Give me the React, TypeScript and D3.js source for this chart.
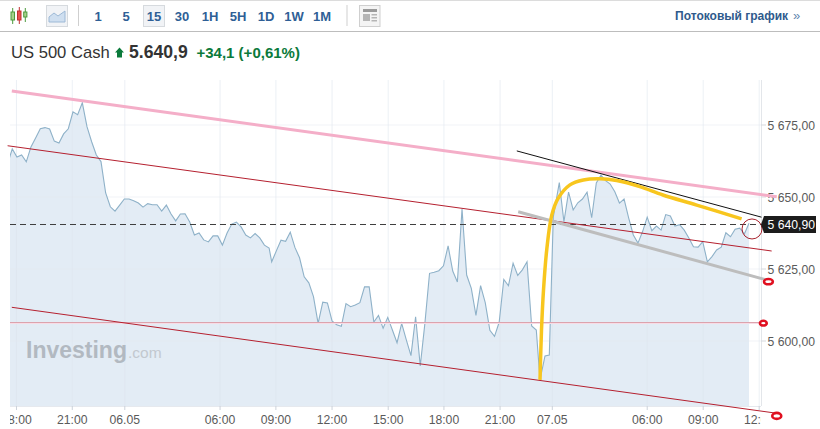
import React, { useMemo } from "react";
import * as d3 from "d3";

const priceMay5Evening = [5661.5,5666.7,5663.9,5664.6,5662.2,5667.4,5670.5,5673.7,5674.1,5673.6,5669.4,5668.75,5671.9,5673.7,5679.6,5678.6,5682.7,5674.4,5669.2,5664.6,5662.3,5651.4,5646.6,5645.1,5647.2,5649.3,5649.3,5648.7,5647.9,5646.5,5647.7,5647.3,5647.3,5645.1,5647.2,5644.1,5641.7,5644.1,5644.2,5641.3,5636.8,5637.5,5635.1,5634.4,5636.5,5636.5,5633.3,5637.5,5640.6,5641.3,5639.6,5636.8,5635.8,5637.3,5635.8,5633.3,5632.3];
const priceMay6 = [5627.5,5631.3,5635,5634.6,5637.8,5632.5,5628.9,5622.3,5620.2,5615.4,5606.1,5613.5,5613.2,5607,5605.6,5605.1,5613,5611.9,5612.5,5613.3,5618.8,5618.8,5606.6,5608.9,5604.4,5608.2,5603.8,5599.4,5606.1,5600.4,5594.9,5608.4,5591.3,5606.1,5623.5,5623.9,5624.4,5626.1,5633,5624.3,5620.5,5645.8,5622.9,5618.3,5608.9,5619.2,5613.3,5603.7,5601.6,5606.5,5621.4,5619.2,5627,5622.8,5624.7,5627.5,5605.2,5603.8,5586.5];
const priceMay7 = [5594.8,5595.1,5643.1,5655,5641.4,5651.7,5645.5,5648,5649.3,5651.7,5642.8,5654.9,5657.6,5655.7,5654.5,5651.8,5647.9,5649.3,5642.7,5636.8,5634,5638,5643,5638.3,5639.9,5638.5,5643.9,5643.4,5639.9,5640.4,5638.5,5635.8,5632.7,5632.6,5634.5,5627.5,5629.3,5631.6,5632.6,5637.6,5636.2,5638.8,5639.2,5637.2,5640.9];
const prices = [...priceMay5Evening, ...priceMay6, ...priceMay7];

const xTickLabels = ["18:00","21:00","06.05","06:00","09:00","12:00","15:00","18:00","21:00","07.05","06:00","09:00","12:00"];
const xTickBars = [1.9,13.85,25.1,45.5,57.9,70,82.1,94.1,106.2,117.75,138,150.1,162.2];
const yTicks = [5675,5650,5625,5600];
const lastPrice = 5640.9;
const supportLevel = 5606.4;

const pinkLine: [number,number][] = [[0.9,5686.8],[166,5650.1]];
const redUpper: [number,number][] = [[0,5667.8],[164.9,5631.25]];
const redLower: [number,number][] = [[0.9,5611.7],[165.6,5575]];
const grayLine: [number,number][] = [[110.1,5644.9],[163.8,5621.2]];
const blackLine: [number,number][] = [[109.8,5666],[162.7,5643]];
const yellowCurve: [number,number][] = [[115,5586.5],[115.3,5603.8],[115.7,5617.7],[116.4,5631.6],[117.6,5643.6],[118.8,5649.5],[121.3,5654.2],[124.2,5655.9],[127.8,5656.3],[131.4,5655.7],[136.4,5653.6],[141.4,5650.7],[148.7,5647.2],[158.4,5642.4]];
const ringMarks: [number,number,number,number][] = [[163.1,5606.2,3.4,2.4],[164.2,5620.6,4.4,2.6],[166,5574,4.5,3]];

const timeframes = ["1","5","15","30","1H","5H","1D","1W","1M"];
const font = "'Liberation Sans', Arial, sans-serif";

export default function App() {
  const x = useMemo(() => d3.scaleLinear()
    .domain([0,56,57,114,115,116,117,118,119,160])
    .range([7.6,269.1,271.7,536.3,540,545,549.3,553.3,559.3,749]), []);
  const y = useMemo(() => d3.scaleLinear().domain([5675,5600]).range([125,341]), []);
  const bottom = 406, left = 10, axisX = 761;
  const seg = d3.line<[number,number]>().x(d => x(d[0])).y(d => y(d[1]));
  const yellow = d3.line<[number,number]>().x(d => x(d[0])).y(d => y(d[1])).curve(d3.curveCatmullRom);
  const line = d3.line<number>().x((_, i) => x(i)).y(d => y(d));
  const area = d3.area<number>().x((_, i) => x(i)).y0(bottom).y1(d => y(d));
  const lastY = Math.ceil(y(lastPrice)) + 0.5;
  const supY = Math.floor(y(supportLevel)) + 0.5;
  return (
    <svg width={820} height={429} style={{ position: "fixed", left: 0, top: 0, background: "#fff" }} fontFamily={font}>
      <defs>
        <clipPath id="plot"><rect x={left} y={32} width={axisX - left} height={bottom - 32} /></clipPath>
        <clipPath id="xlab"><rect x={left} y={408} width={axisX - left} height={21} /></clipPath>
      </defs>
      {/* toolbar */}
      <rect x={0} y={0} width={820} height={1} fill="#dcdcdc" />
      <rect x={0} y={31} width={820} height={1} fill="#bdbdbd" />
      <g>
        <line x1={12.7} x2={12.7} y1={8} y2={24} stroke="#4c9a3c" />
        <rect x={11} y={12} width={3.5} height={8} fill="#a8d08d" stroke="#4c9a3c" />
        <line x1={19.3} x2={19.3} y1={7} y2={24} stroke="#c03030" />
        <rect x={17.5} y={11} width={3.5} height={9} fill="#e85050" stroke="#c03030" />
        <line x1={25.3} x2={25.3} y1={8} y2={22} stroke="#4c9a3c" />
        <rect x={23.7} y={12} width={3.2} height={5} fill="#a8d08d" stroke="#4c9a3c" />
      </g>
      <rect x={46.5} y={5.5} width={21} height={21} fill="#f1f3f6" stroke="#d6dade" />
      <path d="M49,22 L49,17 L54,13 L58,16 L65,11 L65,22 Z" fill="#cfdff0" stroke="#9db9d6" />
      <rect x={78} y={5} width={1} height={21} fill="#cfcfcf" />
      <rect x={346.5} y={5} width={1} height={21} fill="#cfcfcf" />
      <rect x={143.5} y={5.5} width={21} height={21} fill="#f1f3f6" stroke="#d6dade" />
      {timeframes.map((t, i) => (
        <text key={t} x={98 + i * 28} y={20.5} textAnchor="middle" fontSize={13} fontWeight={700} fill="#2f5f96">{t}</text>
      ))}
      <rect x={359.5} y={5.5} width={20.5} height={21} fill="#f4f4f4" stroke="#cfcfcf" />
      <rect x={363} y={9} width={14} height={3} fill="#9a9a9a" />
      <rect x={363} y={14} width={7} height={7} fill="#b5b5b5" />
      <rect x={371.5} y={14} width={5.5} height={1.5} fill="#b5b5b5" />
      <rect x={371.5} y={17} width={5.5} height={1.5} fill="#b5b5b5" />
      <rect x={371.5} y={20} width={5.5} height={1.5} fill="#b5b5b5" />
      <text x={675} y={20} fontSize={12} fontWeight={700} fill="#2f5a8c">Потоковый график</text>
      <text x={793} y={20} fontSize={13} fill="#5f86b0">»</text>

      {/* header */}
      <text x={11} y={58} fontSize={16.6} fill="#333">US 500 Cash</text>
      <path d="M115,52.5 L119.5,47.5 L124,52.5 L122,52.5 L122,57.5 L117,57.5 L117,52.5 Z" fill="#0b7a3b" />
      <text x={129} y={58} fontSize={17.6} fontWeight={700} fill="#333">5.640,9</text>
      <text x={196.5} y={58} fontSize={15} fontWeight={700} fill="#0b7a3b">+34,1 (+0,61%)</text>

      {/* plot */}
      <g clipPath="url(#plot)">
        <path d={area(prices) ?? ""} fill="#e3ecf5" />
        {xTickBars.map((b, i) => <line key={i} x1={x(b)} x2={x(b)} y1={80} y2={bottom} stroke="#dde3ec" strokeOpacity={0.55} />)}
        {yTicks.map(t => <line key={t} x1={left} x2={axisX} y1={y(t)} y2={y(t)} stroke="#e4e8f0" strokeOpacity={0.5} />)}
        <text x={26} y={358} fontSize={23} fontWeight={700} fill="#b2b9c1">Investing</text>
        <text x={128} y={358} fontSize={15.5} fill="#c2c8cf">.com</text>
        <path d={line(prices) ?? ""} fill="none" stroke="#8eb1c8" strokeWidth={1.1} />
      </g>
      <line x1={axisX + 0.5} x2={axisX + 0.5} y1={80} y2={bottom} stroke="#e3e6ea" />
      <line x1={left} x2={axisX} y1={bottom + 0.5} y2={bottom + 0.5} stroke="#e6e9ee" />
      {yTicks.map(t => (
        <g key={t}>
          <line x1={axisX} x2={axisX + 5} y1={y(t)} y2={y(t)} stroke="#d5d9de" />
          <text x={767.5} y={y(t) + 4.5} fontSize={12.2} fill="#5a5a5a">{`${String(t)[0]} ${String(t).slice(1)},00`}</text>
        </g>
      ))}
      <g clipPath="url(#xlab)">
        {xTickLabels.map((l, i) => (
          <text key={i} x={x(xTickBars[i])} y={424} textAnchor="middle" fontSize={12.2} fill="#5a5a5a">{l}</text>
        ))}
      </g>
      {xTickBars.map((b, i) => x(b) >= left && x(b) <= axisX ? <line key={i} x1={x(b)} x2={x(b)} y1={bottom} y2={bottom + 4} stroke="#ccd2da" /> : null)}

      <line x1={left} x2={axisX} y1={lastY} y2={lastY} stroke="#3f3f3f" strokeDasharray="6 4" />
      <line x1={left} x2={x(163.1)} y1={supY} y2={supY} stroke="#dca3ad" />
      <line x1={left} x2={x(163.1)} y1={supY + 1} y2={supY + 1} stroke="#f7dce6" />

      {/* annotations */}
      <path d={seg(pinkLine) ?? ""} stroke="#f4aec8" strokeWidth={3} fill="none" />
      <path d={seg(redUpper) ?? ""} stroke="#b5202f" strokeWidth={1} fill="none" />
      <path d={seg(redLower) ?? ""} stroke="#b5202f" strokeWidth={1} fill="none" />
      <path d={seg(grayLine) ?? ""} stroke="#bdbdbd" strokeWidth={3} fill="none" />
      <path d={seg(blackLine) ?? ""} stroke="#111" strokeWidth={1} fill="none" />
      <path d={yellow(yellowCurve) ?? ""} stroke="#f8c61e" strokeWidth={3.5} fill="none" />
      {ringMarks.map(([b, p, rx, ry], i) => (
        <ellipse key={i} cx={x(b)} cy={y(p)} rx={rx} ry={ry} fill="#fff" stroke="#e01020" strokeWidth={2.6} />
      ))}
      <circle cx={x(160.65)} cy={y(5638.9)} r={10} fill="none" stroke="#a8232e" strokeWidth={1} />

      <path d={`M761,${lastY} L764,${lastY - 8.5} L816,${lastY - 8.5} L816,${lastY + 8.5} L764,${lastY + 8.5} Z`} fill="#1c1c1c" />
      <text x={767.5} y={lastY + 4} fontSize={12.2} fill="#fff">5 640,90</text>
    </svg>
  );
}
